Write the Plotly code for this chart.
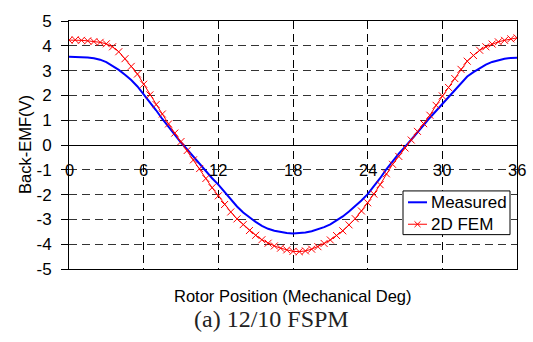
import plotly.graph_objects as go

# Rotor position (mechanical degrees), 0.5 deg step
position = [i * 0.5 for i in range(73)]

measured = [3.56, 3.56, 3.55, 3.53, 3.50, 3.44, 3.34, 3.20, 3.03, 2.83,
            2.62, 2.36, 2.05, 1.72, 1.40, 1.05, 0.72, 0.40, 0.10, -0.18,
            -0.48, -0.77, -1.06, -1.34, -1.60, -1.90, -2.20, -2.48, -2.72, -2.92,
            -3.10, -3.26, -3.38, -3.46, -3.52, -3.55, -3.57, -3.56, -3.53, -3.48,
            -3.40, -3.31, -3.20, -3.05, -2.88, -2.68, -2.47, -2.24, -1.98, -1.67,
            -1.34, -0.98, -0.65, -0.35, -0.08, 0.20, 0.50, 0.80, 1.10, 1.38,
            1.64, 1.93, 2.24, 2.52, 2.76, 2.94, 3.10, 3.24, 3.35, 3.43,
            3.48, 3.51, 3.52]

fem_2d = [4.23, 4.24, 4.22, 4.20, 4.17, 4.14, 4.08, 3.96, 3.76, 3.48,
          3.17, 2.86, 2.45, 2.02, 1.63, 1.25, 0.85, 0.48, 0.14, -0.22,
          -0.60, -0.95, -1.35, -1.72, -2.05, -2.40, -2.70, -2.98, -3.21, -3.45,
          -3.64, -3.82, -3.96, -4.07, -4.16, -4.23, -4.29, -4.30, -4.27, -4.20,
          -4.10, -3.97, -3.83, -3.65, -3.46, -3.22, -2.97, -2.66, -2.33, -1.98,
          -1.60, -1.16, -0.78, -0.46, -0.12, 0.20, 0.55, 0.86, 1.20, 1.60,
          1.98, 2.32, 2.68, 3.05, 3.38, 3.61, 3.82, 3.96, 4.07, 4.16,
          4.22, 4.28, 4.32]

x_ticks = [0, 6, 12, 18, 24, 30, 36]
x_tick_labels = ["0", "6", "12", "18", "24", "30", "36"]
y_ticks = [-5, -4, -3, -2, -1, 0, 1, 2, 3, 4, 5]
y_tick_labels = ["-5", "-4", "-3", "-2", "-1", "0", "1", "2", "3", "4", "5"]

FONT = "Liberation Sans, Arial, sans-serif"
FS = 16.5

# plot-area geometry in pixels (for placing decorations)
L, R, T, B = 69, 517, 14, 269.4


def px(x):
    return (x - L) / (R - L)


def py(y):
    return (B - y) / (B - T)


fig = go.Figure()
fig.add_trace(go.Scatter(x=position, y=measured, mode="lines", name="Measured",
                         line=dict(color="#0000ff", width=2), showlegend=False))
fig.add_trace(go.Scatter(x=position, y=fem_2d, mode="lines+markers", name="2D FEM",
                         line=dict(color="#ff0000", width=1), showlegend=False,
                         marker=dict(symbol="x-thin", size=7, color="#ff0000",
                                     line=dict(color="#ff0000", width=1))))

# x tick labels placed along the y = -1 row, as in the reference
for xv, lab in zip(x_ticks, x_tick_labels):
    fig.add_annotation(x=xv, y=-1, xref="x", yref="y", text=lab, showarrow=False,
                       xanchor="center", yanchor="middle",
                       font=dict(family=FONT, size=FS, color="black"))

fig.add_annotation(x=0.5, y=py(297), xref="paper", yref="paper",
                   text="Rotor Position (Mechanical Deg)", showarrow=False,
                   xanchor="center", yanchor="middle",
                   font=dict(family=FONT, size=FS, color="black"))
fig.add_annotation(x=px(271), y=py(321), xref="paper", yref="paper",
                   text="(a) 12/10 FSPM", showarrow=False,
                   xanchor="center", yanchor="middle",
                   font=dict(family="Liberation Serif, Times New Roman, serif", size=24, color="#222222"))
fig.add_annotation(x=px(25), y=0.5, xref="paper", yref="paper",
                   text="Back-EMF(V)", showarrow=False, textangle=-90,
                   xanchor="center", yanchor="middle",
                   font=dict(family=FONT, size=FS, color="black"))

# legend box drawn by hand to match the reference's compact layout
legend_names = ["Measured", "2D FEM"]
legend_colors = ["#0000ff", "#ff0000"]
legend_widths = [2, 1]
legend_rows = [200.7, 223.3]
fig.add_shape(type="rect", xref="paper", yref="paper",
              x0=px(403), x1=px(510), y0=py(234), y1=py(189),
              line=dict(color="black", width=1), fillcolor="white", layer="above")
for name, col, w, yy in zip(legend_names, legend_colors, legend_widths, legend_rows):
    fig.add_shape(type="line", xref="paper", yref="paper",
                  x0=px(408), x1=px(427), y0=py(yy), y1=py(yy),
                  line=dict(color=col, width=w), layer="above")
    fig.add_annotation(x=px(429), y=py(yy), xref="paper", yref="paper", text=name,
                       showarrow=False, xanchor="left", yanchor="middle",
                       font=dict(family=FONT, size=17, color="black"))
# x marker in the 2D FEM legend sample
for dx0, dy0, dx1, dy1 in [(-3, -3, 3, 3), (-3, 3, 3, -3)]:
    fig.add_shape(type="line", xref="paper", yref="paper",
                  x0=px(417.5 + dx0), x1=px(417.5 + dx1),
                  y0=py(legend_rows[1] + dy0), y1=py(legend_rows[1] + dy1),
                  line=dict(color="#ff0000", width=1), layer="above")

fig.update_xaxes(range=[0, 36], tickvals=x_ticks, showticklabels=False,
                 showgrid=True, gridcolor="black", griddash="8px,5px", gridwidth=1,
                 showline=True, linecolor="black", linewidth=1, mirror=True,
                 zeroline=False, ticks="")
fig.update_yaxes(range=[-5, 5], tickvals=y_ticks, ticktext=y_tick_labels,
                 showgrid=True, gridcolor="#333333", griddash="8px,5px", gridwidth=1,
                 showline=True, linecolor="black", linewidth=1, mirror=True,
                 zeroline=True, zerolinecolor="black", zerolinewidth=1,
                 ticks="outside", ticklen=7, tickcolor="black", ticklabelstandoff=6,
                 tickfont=dict(family=FONT, size=17, color="black"))

fig.update_layout(
    width=533, height=342,
    margin=dict(l=69, r=16, t=14, b=73),
    paper_bgcolor="white", plot_bgcolor="white",
    showlegend=False,
)

fig.write_html("out.html")
